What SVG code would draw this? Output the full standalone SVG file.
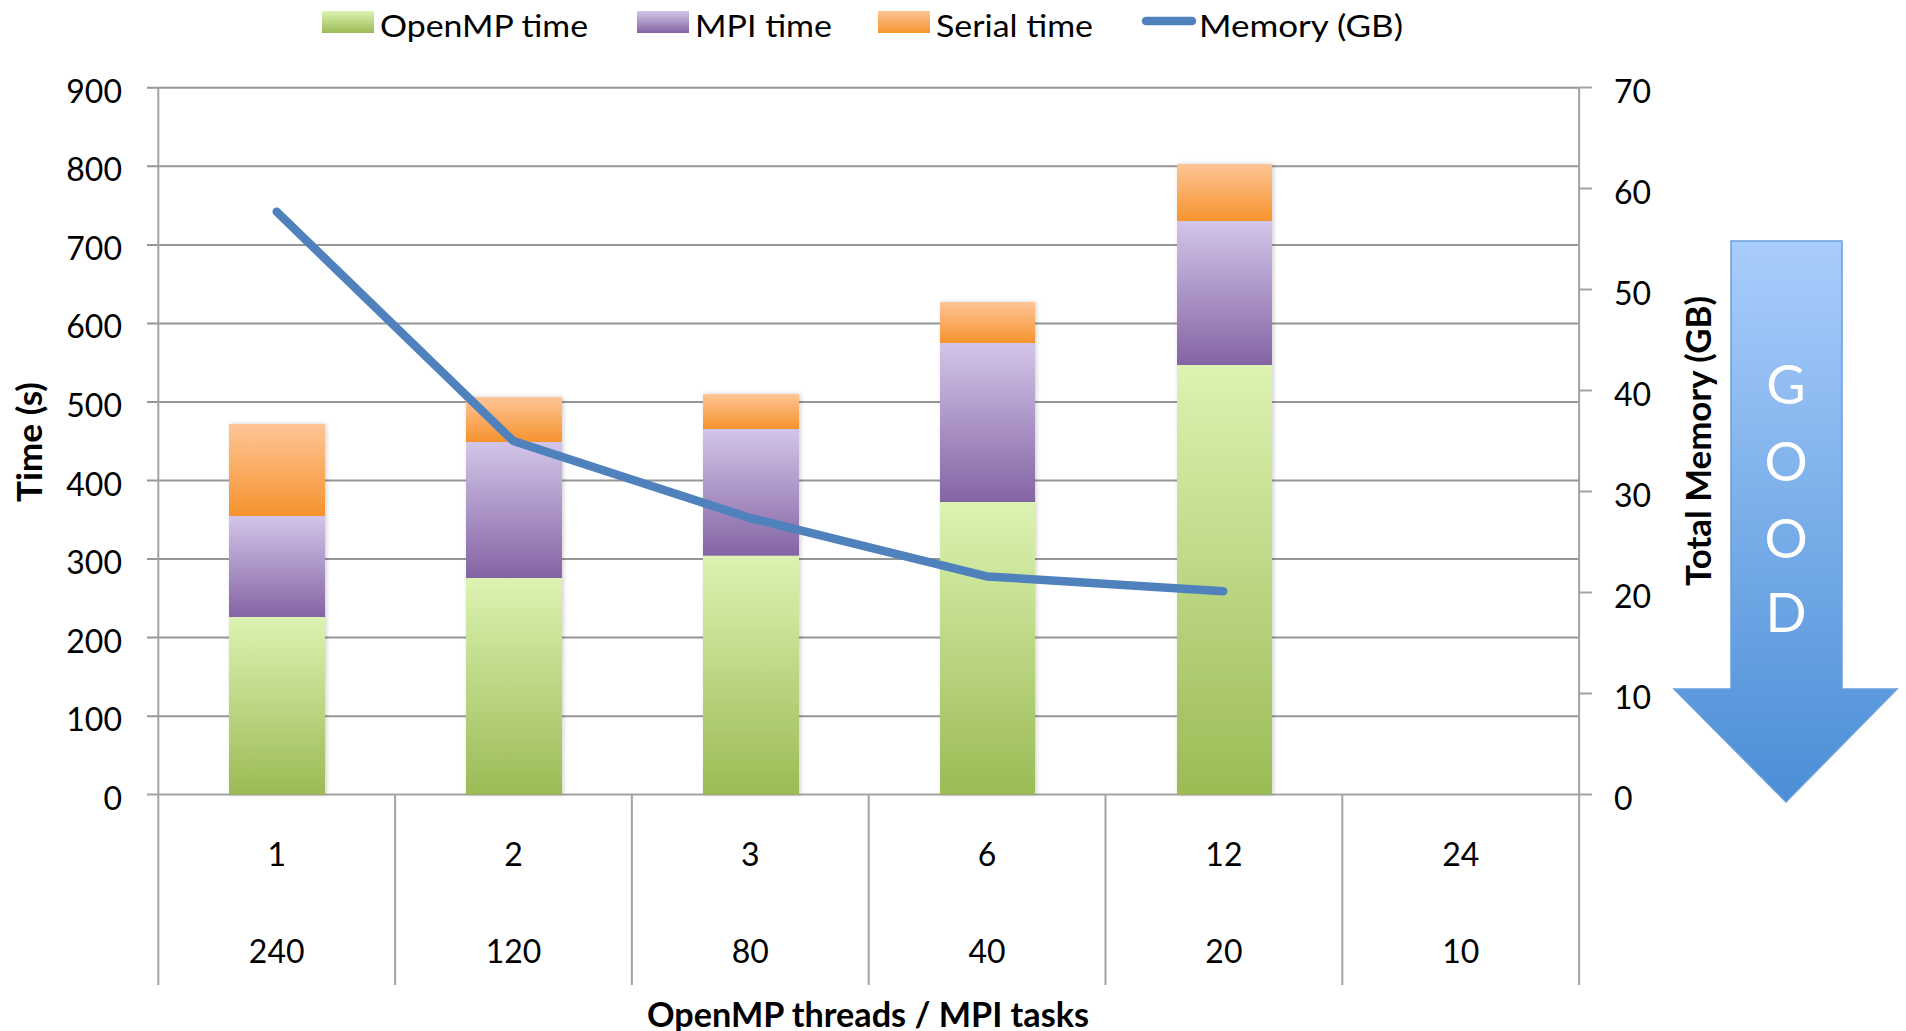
<svg xmlns="http://www.w3.org/2000/svg" width="1906" height="1031" viewBox="0 0 1906 1031">
  <style>
    .grid { stroke: #969696; stroke-width: 2; fill: none; }
    .axis { stroke: #a3a3a3; stroke-width: 2; fill: none; }
    .tick { font-family: Lato, "Liberation Sans", sans-serif; font-size: 32px; fill: #000; }
    .lab { font-family: Lato, "Liberation Sans", sans-serif; font-size: 32px; fill: #000; text-anchor: middle; }
    .leg { font-family: Lato, "Liberation Sans", sans-serif; font-size: 31px; fill: #000; }
    .title { font-family: Lato, "Liberation Sans", sans-serif; font-size: 35px; font-weight: bold; fill: #000; text-anchor: middle; }
    .good { font-family: Lato, "Liberation Sans", sans-serif; font-size: 54px; fill: #fff; text-anchor: middle; }
    .mem { stroke: #4f81bd; stroke-width: 8.5; fill: none; stroke-linecap: round; stroke-linejoin: round; }
  </style>
  <defs>
    <linearGradient id="gOmp" x1="0" y1="0" x2="0" y2="1">
      <stop offset="0" stop-color="#dcf3b2"/>
      <stop offset="1" stop-color="#9bbb55"/>
    </linearGradient>
    <linearGradient id="gMpi" x1="0" y1="0" x2="0" y2="1">
      <stop offset="0" stop-color="#d3c5e9"/>
      <stop offset="1" stop-color="#8464a4"/>
    </linearGradient>
    <linearGradient id="gSer" x1="0" y1="0" x2="0" y2="1">
      <stop offset="0" stop-color="#fec596"/>
      <stop offset="1" stop-color="#f6932e"/>
    </linearGradient>
    <linearGradient id="gArrow" x1="0" y1="241" x2="0" y2="802" gradientUnits="userSpaceOnUse">
      <stop offset="0" stop-color="#a9cdfc"/>
      <stop offset="1" stop-color="#4a8ed6"/>
    </linearGradient>
    <filter id="barShadow" x="-10%" y="-5%" width="120%" height="110%">
      <feDropShadow dx="1.5" dy="0" stdDeviation="2" flood-color="#000" flood-opacity="0.18"/>
    </filter>
  </defs>

  <!-- legend -->
  <g id="legend">
    <rect x="322" y="11" width="52" height="22" fill="url(#gOmp)"/>
    <text class="leg" x="380" y="37" textLength="208" lengthAdjust="spacingAndGlyphs">OpenMP time</text>
    <rect x="637" y="11" width="52" height="22" fill="url(#gMpi)"/>
    <text class="leg" x="695" y="37" textLength="137" lengthAdjust="spacingAndGlyphs">MPI time</text>
    <rect x="878" y="11" width="52" height="22" fill="url(#gSer)"/>
    <text class="leg" x="936" y="37" textLength="157" lengthAdjust="spacingAndGlyphs">Serial time</text>
    <line class="mem" x1="1146" y1="21" x2="1192" y2="21"/>
    <text class="leg" x="1199" y="37" textLength="204" lengthAdjust="spacingAndGlyphs">Memory (GB)</text>
  </g>

  <!-- gridlines (time axis, 100 s steps) -->
  <g id="gridlines">
    <line class="grid" x1="147" y1="87.8" x2="1579" y2="87.8"/>
    <line class="grid" x1="147" y1="166.3" x2="1579" y2="166.3"/>
    <line class="grid" x1="147" y1="244.9" x2="1579" y2="244.9"/>
    <line class="grid" x1="147" y1="323.4" x2="1579" y2="323.4"/>
    <line class="grid" x1="147" y1="402" x2="1579" y2="402"/>
    <line class="grid" x1="147" y1="480.5" x2="1579" y2="480.5"/>
    <line class="grid" x1="147" y1="559.1" x2="1579" y2="559.1"/>
    <line class="grid" x1="147" y1="637.6" x2="1579" y2="637.6"/>
    <line class="grid" x1="147" y1="716.2" x2="1579" y2="716.2"/>
  </g>

  <!-- axes, category separators and right-hand ticks -->
  <g id="axes">
    <line class="axis" x1="158.3" y1="87" x2="158.3" y2="985"/>
    <line class="axis" x1="1579.1" y1="87" x2="1579.1" y2="985"/>
    <line class="axis" x1="395.1" y1="794.5" x2="395.1" y2="985"/>
    <line class="axis" x1="631.9" y1="794.5" x2="631.9" y2="985"/>
    <line class="axis" x1="868.7" y1="794.5" x2="868.7" y2="985"/>
    <line class="axis" x1="1105.5" y1="794.5" x2="1105.5" y2="985"/>
    <line class="axis" x1="1342.3" y1="794.5" x2="1342.3" y2="985"/>
    <line class="axis" x1="147" y1="794.5" x2="1592" y2="794.5"/>
    <line class="axis" x1="1579" y1="87.5" x2="1592" y2="87.5"/>
    <line class="axis" x1="1579" y1="188.5" x2="1592" y2="188.5"/>
    <line class="axis" x1="1579" y1="289.5" x2="1592" y2="289.5"/>
    <line class="axis" x1="1579" y1="390.5" x2="1592" y2="390.5"/>
    <line class="axis" x1="1579" y1="491.5" x2="1592" y2="491.5"/>
    <line class="axis" x1="1579" y1="592.5" x2="1592" y2="592.5"/>
    <line class="axis" x1="1579" y1="693.5" x2="1592" y2="693.5"/>
  </g>

  <!-- stacked bars: OpenMP / MPI / serial -->
  <g id="bars" filter="url(#barShadow)">
    <g id="bar-1">
      <rect x="229" y="617" width="96" height="177.5" fill="url(#gOmp)"/>
      <rect x="229" y="516" width="96" height="101" fill="url(#gMpi)"/>
      <rect x="229" y="424" width="96" height="92" fill="url(#gSer)"/>
    </g>
    <g id="bar-2">
      <rect x="466" y="578" width="96" height="216.5" fill="url(#gOmp)"/>
      <rect x="466" y="442" width="96" height="136" fill="url(#gMpi)"/>
      <rect x="466" y="397" width="96" height="45" fill="url(#gSer)"/>
    </g>
    <g id="bar-3">
      <rect x="703" y="555.7" width="96" height="238.8" fill="url(#gOmp)"/>
      <rect x="703" y="429" width="96" height="126.7" fill="url(#gMpi)"/>
      <rect x="703" y="394" width="96" height="35" fill="url(#gSer)"/>
    </g>
    <g id="bar-6">
      <rect x="940" y="502" width="95" height="292.5" fill="url(#gOmp)"/>
      <rect x="940" y="343" width="95" height="159" fill="url(#gMpi)"/>
      <rect x="940" y="302" width="95" height="41" fill="url(#gSer)"/>
    </g>
    <g id="bar-12">
      <rect x="1177" y="365" width="95" height="429.5" fill="url(#gOmp)"/>
      <rect x="1177" y="221" width="95" height="144" fill="url(#gMpi)"/>
      <rect x="1177" y="164" width="95" height="57" fill="url(#gSer)"/>
    </g>
  </g>

  <!-- memory series on the right axis -->
  <g id="connectors">
    <polyline class="mem" points="276.7,211.7 513.3,441 750,518 986.7,576.4 1223.3,591.2"/>
  </g>

  <!-- left axis labels -->
  <g id="left-labels" class="tick" text-anchor="end">
    <text x="122" y="102.8">900</text>
    <text x="122" y="181.3">800</text>
    <text x="122" y="259.9">700</text>
    <text x="122" y="338.4">600</text>
    <text x="122" y="417">500</text>
    <text x="122" y="495.5">400</text>
    <text x="122" y="574.1">300</text>
    <text x="122" y="652.6">200</text>
    <text x="122" y="731.2">100</text>
    <text x="122" y="809.5">0</text>
  </g>

  <!-- right axis labels -->
  <g id="right-labels" class="tick">
    <text x="1614" y="102.5">70</text>
    <text x="1614" y="203.5">60</text>
    <text x="1614" y="304.5">50</text>
    <text x="1614" y="405.5">40</text>
    <text x="1614" y="506.5">30</text>
    <text x="1614" y="607.5">20</text>
    <text x="1614" y="708.5">10</text>
    <text x="1614" y="809.5">0</text>
  </g>

  <!-- category labels: threads / tasks -->
  <g id="category-labels" class="lab">
    <text x="276.7" y="866">1</text>
    <text x="513.5" y="866">2</text>
    <text x="750.3" y="866">3</text>
    <text x="987.1" y="866">6</text>
    <text x="1223.9" y="866">12</text>
    <text x="1460.7" y="866">24</text>
    <text x="276.7" y="963">240</text>
    <text x="513.5" y="963">120</text>
    <text x="750.3" y="963">80</text>
    <text x="987.1" y="963">40</text>
    <text x="1223.9" y="963">20</text>
    <text x="1460.7" y="963">10</text>
  </g>

  <!-- axis titles -->
  <g id="axis-titles" class="title">
    <text transform="translate(41.5,442) rotate(-90)" textLength="120" lengthAdjust="spacingAndGlyphs">Time (s)</text>
    <text transform="translate(1711,441) rotate(-90)" textLength="290" lengthAdjust="spacingAndGlyphs">Total Memory (GB)</text>
    <text x="868" y="1027" textLength="442" lengthAdjust="spacingAndGlyphs">OpenMP threads / MPI tasks</text>
  </g>

  <!-- "GOOD" direction arrow -->
  <g id="good-arrow">
    <polygon points="1731,241 1842,241 1842,689 1897,689 1786,802 1674,689 1731,689" fill="url(#gArrow)" stroke="#6a9fdc" stroke-width="1.5"/>
    <text class="good" x="1786" y="404">G</text>
    <text class="good" x="1786" y="481">O</text>
    <text class="good" x="1786" y="558">O</text>
    <text class="good" x="1786" y="632">D</text>
  </g>
</svg>
